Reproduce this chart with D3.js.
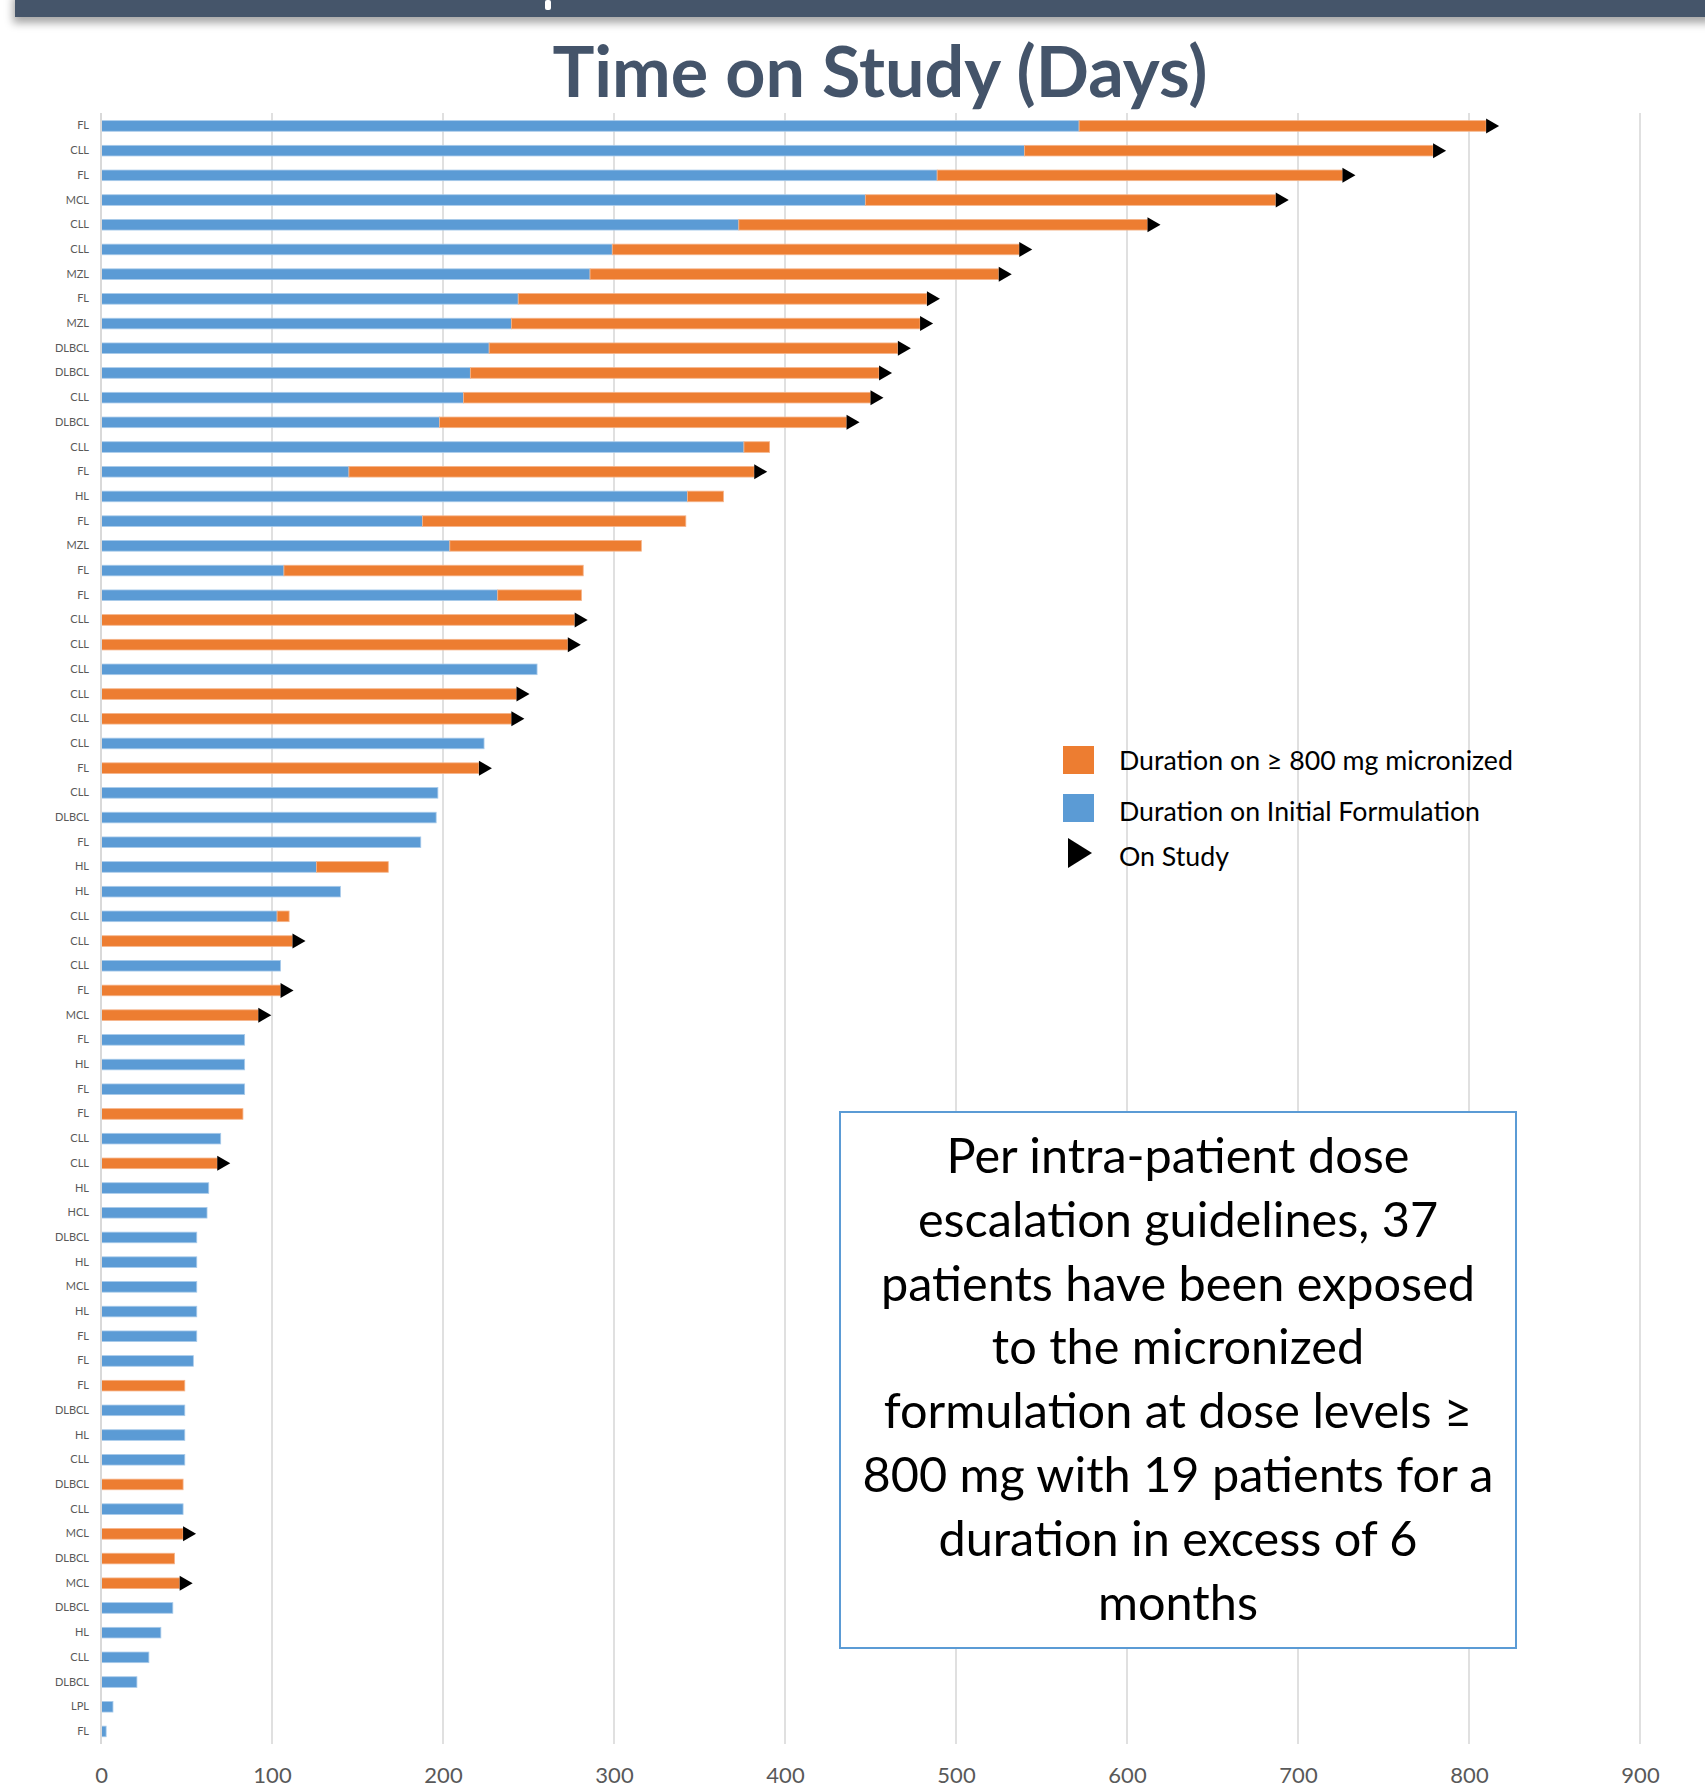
<!DOCTYPE html>
<html>
<head>
<meta charset="utf-8">
<script src="https://cdn.jsdelivr.net/npm/d3@7"></script>
<style>
  html, body { margin: 0; padding: 0; background: #ffffff; }
  svg { display: block; }
</style>
</head>
<body>
<svg id="chart" width="1705" height="1791"></svg>
<script>
// Patient diagnoses, one bar per patient, top to bottom
const diagnoses = ["FL","CLL","FL","MCL","CLL","CLL","MZL","FL","MZL","DLBCL",
  "DLBCL","CLL","DLBCL","CLL","FL","HL","FL","MZL","FL","FL",
  "CLL","CLL","CLL","CLL","CLL","CLL","FL","CLL","DLBCL","FL",
  "HL","HL","CLL","CLL","CLL","FL","MCL","FL","HL","FL",
  "FL","CLL","CLL","HL","HCL","DLBCL","HL","MCL","HL","FL",
  "FL","FL","DLBCL","HL","CLL","DLBCL","CLL","MCL","DLBCL","MCL",
  "DLBCL","HL","CLL","DLBCL","LPL","FL"];

// Days on the initial formulation
const initialDays = [572,540,489,447,373,299,286,244,240,227,
  216,212,198,376,145,343,188,204,107,232,
  0,0,255,0,0,224,0,197,196,187,
  126,140,103,0,105,0,0,84,84,84,
  0,70,0,63,62,56,56,56,56,56,
  54,0,49,49,49,0,48,0,0,0,
  42,35,28,21,7,3];

// Days on >= 800 mg micronized formulation (after the initial period)
const micronizedDays = [238,239,237,240,239,238,239,239,239,239,
  239,238,238,15,237,21,154,112,175,49,
  277,273,0,243,240,0,221,0,0,0,
  42,0,7,112,0,105,92,0,0,0,
  83,0,68,0,0,0,0,0,0,0,
  0,49,0,0,0,48,0,48,43,46,
  0,0,0,0,0,0];

// 1 = patient still on study
const onStudy = [1,1,1,1,1,1,1,1,1,1,
  1,1,1,0,1,0,0,0,0,0,
  1,1,0,1,1,0,1,0,0,0,
  0,0,0,1,0,1,1,0,0,0,
  0,0,1,0,0,0,0,0,0,0,
  0,0,0,0,0,0,0,1,0,1,
  0,0,0,0,0,0];

const xTicks = [0,100,200,300,400,500,600,700,800,900];

const legendLabels = ["Duration on \u2265 800 mg micronized", "Duration on Initial Formulation", "On Study"];

const noteLines = ["Per intra-patient dose", "escalation guidelines, 37", "patients have been exposed",
  "to the micronized", "formulation at dose levels \u2265", "800 mg with 19 patients for a",
  "duration in excess of 6", "months"];

const title = "Time on Study (Days)";

const BLUE = "#5B9BD5", ORANGE = "#ED7D31", SLATE = "#44546A", GRID = "#D9D9D9", AXIS_TXT = "#595959";
const FONT = "Lato, 'Open Sans', sans-serif";

const svg = d3.select("#chart");

// scale text so its rendered width equals a target width
function fitWidth(sel, target) {
  const node = sel.node();
  const fs = parseFloat(sel.attr("font-size"));
  const w = node.getComputedTextLength();
  if (w > 0) sel.attr("font-size", (fs * target / w).toFixed(2));
  return sel;
}

// ---- header band with shadow ----
const defs = svg.append("defs");
const sh = defs.append("filter").attr("id", "shadow").attr("x", "-5%").attr("y", "-50%").attr("width", "110%").attr("height", "300%");
sh.append("feDropShadow").attr("dx", -2).attr("dy", 6).attr("stdDeviation", 4).attr("flood-color", "#000").attr("flood-opacity", 0.35);

svg.append("rect").attr("x", 15).attr("y", -10).attr("width", 1700).attr("height", 27)
  .attr("fill", SLATE).attr("filter", "url(#shadow)");
svg.append("rect").attr("x", 545).attr("y", 0).attr("width", 6).attr("height", 10).attr("rx", 2).attr("fill", "#ffffff");

// ---- title ----
const titleSel = svg.append("text").attr("x", 880).attr("y", 97).attr("text-anchor", "middle")
  .attr("font-family", FONT).attr("font-weight", 700).attr("font-size", 70).attr("fill", SLATE).text(title);
fitWidth(titleSel, 655);

// ---- scales ----
const x = d3.scaleLinear().domain([0, 900]).range([101, 1640]);
const idx = d3.range(diagnoses.length);
const y = d3.scaleBand().domain(idx).range([113.6, 1743.8]).paddingInner(0.57).paddingOuter(0.285);

// ---- gridlines ----
svg.append("g").selectAll("line").data(xTicks).join("line")
  .attr("x1", d => x(d)).attr("x2", d => x(d))
  .attr("y1", 113).attr("y2", 1744)
  .attr("stroke", GRID).attr("stroke-width", 1.6);

// ---- bars ----
const rows = idx.map(i => ({
  i, label: diagnoses[i], a: initialDays[i], b: micronizedDays[i], on: onStudy[i]
}));

const bars = svg.append("g");
bars.selectAll("rect.init").data(rows.filter(d => d.a > 0)).join("rect")
  .attr("class", "init")
  .attr("x", x(0)).attr("y", d => y(d.i))
  .attr("width", d => x(d.a) - x(0)).attr("height", y.bandwidth())
  .attr("fill", BLUE).attr("stroke", "#A9CBEA").attr("stroke-width", 0.8);

bars.selectAll("rect.micro").data(rows.filter(d => d.b > 0)).join("rect")
  .attr("class", "micro")
  .attr("x", d => x(d.a)).attr("y", d => y(d.i))
  .attr("width", d => x(d.a + d.b) - x(d.a)).attr("height", y.bandwidth())
  .attr("fill", ORANGE).attr("stroke", "#F5B48A").attr("stroke-width", 0.8);

// ---- on-study markers ----
const triW = 13, triH = 15;
bars.selectAll("path.on").data(rows.filter(d => d.on)).join("path")
  .attr("class", "on")
  .attr("d", d => {
    const x0 = x(d.a + d.b), cy = y(d.i) + y.bandwidth() / 2;
    return `M${x0},${cy - triH / 2}L${x0 + triW},${cy}L${x0},${cy + triH / 2}Z`;
  })
  .attr("fill", "#000");

// ---- axes ----
svg.append("line").attr("x1", x(0)).attr("x2", x(0)).attr("y1", 113).attr("y2", 1744)
  .attr("stroke", GRID).attr("stroke-width", 2);

const yAxis = svg.append("g").attr("transform", `translate(${x(0)},0)`)
  .call(d3.axisLeft(y).tickSize(0).tickPadding(12).tickFormat(i => diagnoses[i]));
yAxis.select(".domain").remove();
yAxis.selectAll("text").attr("font-family", FONT).attr("font-size", 11).attr("fill", AXIS_TXT);

const xAxis = svg.append("g").attr("transform", `translate(0,1744)`)
  .call(d3.axisBottom(x).tickValues(xTicks).tickSize(0).tickPadding(23));
xAxis.select(".domain").remove();
xAxis.selectAll("text").attr("font-family", FONT).attr("font-size", 22).attr("fill", AXIS_TXT);

// ---- legend ----
const lg = svg.append("g");
lg.append("rect").attr("x", 1063).attr("y", 746).attr("width", 31).attr("height", 28).attr("fill", ORANGE);
lg.append("rect").attr("x", 1063).attr("y", 794).attr("width", 31).attr("height", 28).attr("fill", BLUE);
lg.append("path").attr("d", "M1068,838L1092,853L1068,868Z").attr("fill", "#000");
const legY = [770, 821, 866];
const legText = lg.selectAll("text").data(legendLabels).join("text")
  .attr("x", 1119).attr("y", (d, i) => legY[i])
  .attr("font-family", FONT).attr("font-size", 26).attr("fill", "#000").text(d => d);
const lw = legText.nodes()[0].getComputedTextLength();
legText.attr("font-size", (26 * 394 / lw).toFixed(2));

// ---- note box ----
svg.append("rect").attr("x", 840).attr("y", 1112).attr("width", 676).attr("height", 536)
  .attr("fill", "#ffffff").attr("stroke", BLUE).attr("stroke-width", 2);
const note = svg.append("g").selectAll("text").data(noteLines).join("text")
  .attr("x", 1178).attr("y", (d, i) => 1173 + i * 63.8)
  .attr("text-anchor", "middle").attr("font-family", FONT).attr("font-size", 46)
  .attr("fill", "#000").text(d => d);
const nw = note.nodes()[5].getComputedTextLength();
note.attr("font-size", (46 * 631 / nw).toFixed(2));
</script>
</body>
</html>
